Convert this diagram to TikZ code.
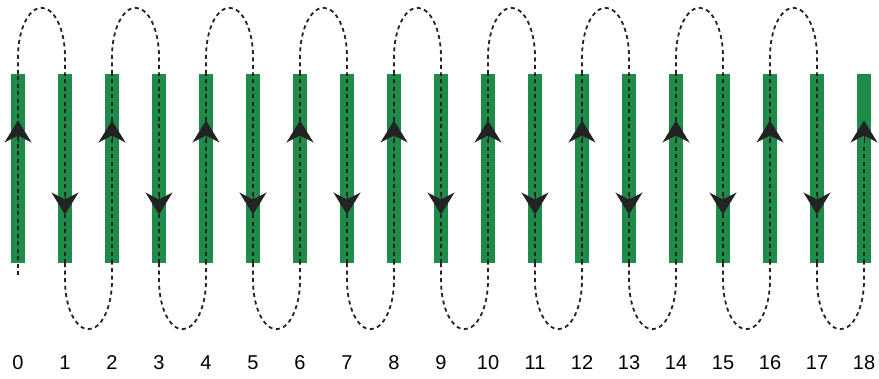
\documentclass[tikz,border=0pt]{standalone}
\usepackage{fontspec}
\setmainfont{Liberation Sans}
\usetikzlibrary{arrows.meta}
\definecolor{bargreen}{RGB}{30,140,72}
\definecolor{ink}{RGB}{35,35,35}

\begin{document}
\begin{tikzpicture}[x=1pt,y=1pt,
  bar/.style={fill=bargreen,minimum width=14pt,minimum height=189pt,inner sep=0pt},
  lab/.style={font=\fontsize{20}{24}\selectfont},
  rt/.style={ink,line width=1.8pt,dash pattern=on 4pt off 3.5pt},
  ar/.style={ink,line width=1pt,-{Stealth[length=22pt,width=27pt,inset=7pt]}}]
\useasboundingbox (0,0) rectangle (879,378);
\foreach \i in {0,...,18}{
  \node[bar] (b\i) at (18+47*\i,209.5) {};
  \node[lab] (l\i) at (18+47*\i,15) {\i};
}
% dashed route through the bars
\draw[rt] ([yshift=-12pt]b0.south) -- (b0.north);
\foreach \i in {1,...,17}
  \draw[rt] (b\i.south) -- (b\i.north);
\draw[rt] (b18.south) -- ++(0,120);
% loops on top and at the bottom
\foreach \i [evaluate=\i as \j using int(\i+1)] in {0,2,...,16}
  \draw[rt] (b\i.north) -- ++(0,17) arc[start angle=180,end angle=0,x radius=23.5,y radius=49] -- (b\j.north);
\foreach \i [evaluate=\i as \j using int(\i+1)] in {1,3,...,17}
  \draw[rt] (b\i.south) -- ++(0,-17) arc[start angle=180,end angle=360,x radius=23.5,y radius=49] -- (b\j.south);
% direction marks
\foreach \i in {0,2,...,18}
  \draw[ar] ([yshift=25pt]b\i.center) -- ([yshift=48pt]b\i.center);
\foreach \i in {1,3,...,17}
  \draw[ar] ([yshift=-28pt]b\i.center) -- ([yshift=-46pt]b\i.center);
\end{tikzpicture}
\end{document}
